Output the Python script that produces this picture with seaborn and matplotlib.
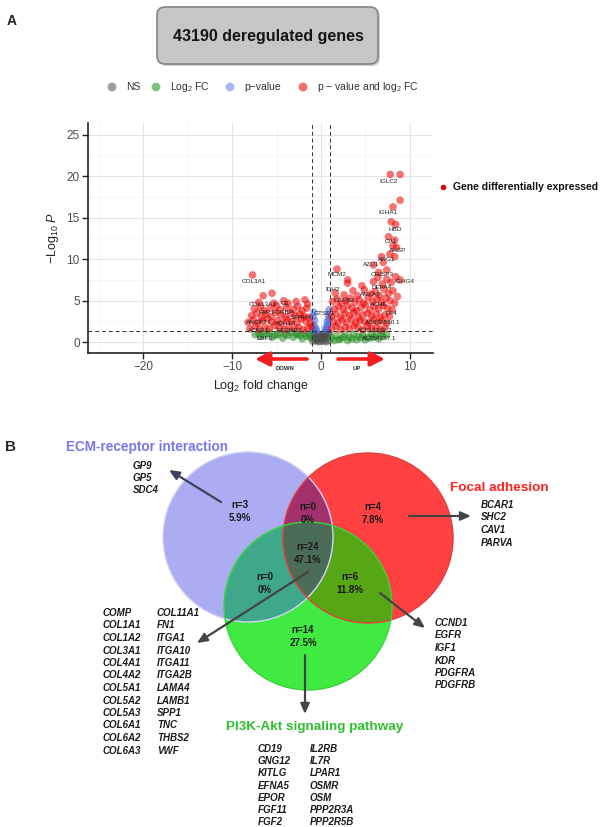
import numpy as np
import pandas as pd
import matplotlib
matplotlib.use("Agg")
import matplotlib.pyplot as plt
from matplotlib.patches import FancyBboxPatch, Circle
import seaborn as sns

sns.set_theme(style="white")
plt.rcParams["font.family"] = ["Liberation Sans", "DejaVu Sans"]
plt.rcParams["mathtext.fontset"] = "custom"
plt.rcParams["mathtext.rm"] = "Liberation Sans"
plt.rcParams["mathtext.it"] = "Liberation Sans:italic"
plt.rcParams["mathtext.bf"] = "Liberation Sans:bold"

# ---------------------------------------------------------------- data (A)
n_deregulated = 43190

# not significant
ns_fc = [-0.9, -0.6, -0.3, 0.0, 0.3, 0.6, 0.9, -0.8, -0.5, -0.2, 0.1, 0.4, 0.7,
         -0.7, -0.4, -0.1, 0.2, 0.5, 0.8, -0.9, 0.9, -0.5, 0.0, 0.5]
ns_p = [0.1, 0.2, 0.05, 0.1, 0.15, 0.05, 0.2, 0.5, 0.6, 0.4, 0.55, 0.45, 0.6,
        0.9, 1.0, 0.8, 0.95, 0.85, 1.1, 1.2, 1.0, 0.3, 0.7, 1.15]

# fold change only
fc_fc = [-7.4, -6.8, -6.1, -5.5, -4.9, -4.3, -3.7, -3.1, -2.6, -2.1, -1.6, -1.2,
         -7.0, -6.4, -5.8, -5.2, -4.6, -4.0, -3.4, -2.8, -2.3, -1.8, -1.3,
         1.2, 1.7, 2.2, 2.7, 3.2, 3.7, 4.2, 4.7, 5.2, 5.7, 6.2, 6.8, 7.4,
         1.5, 2.0, 2.5, 3.0, 3.5, 4.0, 4.5, 5.0, 5.5, 6.0, 6.5, 7.0]
fc_p = [0.9, 0.7, 1.0, 0.6, 0.9, 0.5, 0.8, 0.6, 0.9, 0.4, 0.7, 0.5,
        1.1, 0.9, 1.2, 0.8, 1.1, 0.9, 1.2, 1.0, 0.8, 1.1, 0.9,
        0.5, 0.8, 0.4, 0.9, 0.6, 1.0, 0.7, 0.9, 0.6, 1.0, 0.8, 1.1, 0.9,
        0.2, 0.3, 0.6, 0.2, 0.4, 0.3, 0.5, 0.3, 0.5, 0.6, 0.4, 0.7]

# p-value only
pv_fc = [-0.9, -0.8, -0.7, -0.9, -0.6, -0.8, -0.5, 0.7, 0.8, 0.9, 0.6, 0.8, 0.9, 0.7, 0.5]
pv_p = [1.5, 2.0, 2.6, 3.1, 1.7, 3.6, 1.4, 1.6, 2.2, 2.8, 1.9, 3.3, 3.9, 2.5, 1.5]

# significant, down-regulated
down_fc = [-8.0, -7.4, -6.9, -6.3, -5.8, -5.2, -4.7, -4.1, -3.6, -3.0, -2.5, -2.0, -1.5, -1.1,
           -8.2, -7.6, -7.1, -6.6, -6.0, -5.5, -4.9, -4.4, -3.8, -3.3, -2.7, -2.2, -1.7, -1.2,
           -7.8, -7.2, -6.7, -6.2, -5.6, -5.1, -4.5, -4.0, -3.4, -2.9, -2.4, -1.9, -1.4,
           -7.5, -6.8, -6.4, -5.7, -5.0, -4.6, -3.9, -3.1, -2.6, -2.1, -1.6,
           -7.0, -6.5, -5.5, -5.3, -4.2, -3.7, -2.8, -1.8, -1.5, -7.7]
down_p = [1.6, 1.9, 1.5, 1.8, 1.6, 2.0, 1.7, 1.5, 1.9, 1.6, 1.8, 1.5, 1.7, 1.9,
          2.4, 2.7, 2.3, 2.6, 2.8, 2.4, 2.6, 2.3, 2.7, 2.5, 2.4, 2.8, 2.5, 2.3,
          3.2, 3.5, 3.0, 3.4, 3.1, 3.6, 3.3, 3.0, 3.5, 3.2, 3.4, 3.1, 3.0,
          4.0, 4.3, 3.8, 4.1, 4.4, 3.9, 4.2, 4.0, 4.3, 3.8, 4.1,
          4.8, 5.6, 5.9, 4.7, 5.0, 4.7, 4.9, 5.1, 4.6, 8.1]

# significant, up-regulated
up_fc = [1.2, 1.7, 2.2, 2.7, 3.2, 3.7, 4.2, 4.7, 5.2, 5.7, 6.2, 6.7, 7.2,
         1.4, 1.9, 2.4, 2.9, 3.4, 3.9, 4.4, 4.9, 5.4, 5.9, 6.4, 6.9, 7.4,
         1.2, 1.7, 2.2, 2.7, 3.2, 3.7, 4.2, 4.7, 5.2, 5.7, 6.2, 6.7, 7.2, 7.7,
         1.5, 2.0, 2.5, 3.0, 3.5, 4.0, 4.5, 5.0, 5.5, 6.0, 6.5, 7.0, 7.5, 8.0,
         1.3, 1.8, 2.3, 2.8, 3.3, 3.8, 4.3, 4.8, 5.3, 5.8, 6.3, 6.8, 7.3, 7.8, 8.3,
         1.6, 2.6, 3.6, 4.1, 4.9, 5.6, 6.1, 6.6, 7.1, 7.6, 8.1, 8.6,
         3.0, 4.6, 5.9, 6.4, 6.9, 7.4, 7.9, 8.4,
         1.8, 3.0, 5.9, 6.5, 7.4, 7.0, 6.8, 7.75, 8.3, 8.1, 8.5, 7.6, 8.3,
         7.9, 8.4, 8.9, 8.1, 7.8, 8.9, 8.9]
up_p = [1.6, 1.9, 1.5, 1.8, 1.6, 2.0, 1.7, 1.5, 1.9, 1.6, 1.8, 1.5, 1.7,
        2.5, 2.3, 2.7, 2.4, 2.8, 2.3, 2.6, 2.5, 2.3, 2.7, 2.4, 2.6, 2.3,
        3.1, 3.4, 3.0, 3.5, 3.2, 3.6, 3.0, 3.3, 3.5, 3.1, 3.4, 3.0, 3.3, 3.1,
        4.0, 4.3, 3.9, 4.4, 4.1, 3.8, 4.2, 4.5, 3.9, 4.3, 4.0, 4.4, 4.1, 3.9,
        4.9, 5.2, 4.7, 5.0, 5.3, 4.8, 5.1, 4.7, 5.4, 4.9, 5.2, 4.8, 5.3, 5.0, 4.7,
        5.9, 5.7, 6.2, 5.6, 6.3, 5.8, 6.1, 5.6, 6.4, 5.9, 6.2, 5.5,
        7.1, 6.8, 7.3, 7.8, 7.0, 7.6, 7.2, 7.9,
        8.8, 7.5, 9.3, 8.4, 8.7, 9.6, 10.3, 10.6, 10.3, 11.6, 11.4, 12.7, 12.3,
        14.5, 14.2, 17.1, 16.3, 20.2, 20.2, 7.5]

# labelled genes
lab_genes = ["IGLC2", "IGHA1", "HBD", "CA1", "AHSP", "ARG1", "AZU1", "CRISP3", "IGHG4",
             "DEFA4", "ANXA3", "ACHE", "PF4", "MCM2", "IDH2", "GTSE1", "CCNB2",
             "AC092580.1", "AC012317.2", "AL354257.1",
             "COL3A1", "COL13A1", "C3", "FAP", "FCGBP", "SFRP4", "ANGPT1", "ADH1B",
             "ACKR1", "EFEMP1", "EBF3"]
lab_fc = [7.6, 7.5, 8.4, 7.9, 8.6, 7.4, 5.7, 6.9, 9.4,
          6.8, 5.6, 6.5, 7.9, 1.8, 1.3, 0.4, 2.6,
          7.0, 6.0, 6.5,
          -7.6, -6.6, -4.1, -6.4, -4.3, -2.2, -7.0, -4.0,
          -7.0, -3.6, -6.4]
lab_p = [19.3, 15.6, 13.6, 12.1, 11.0, 10.0, 9.3, 8.2, 7.3,
         6.6, 5.8, 4.6, 3.4, 8.2, 6.4, 3.4, 5.0,
         2.4, 1.4, 0.4,
         7.3, 4.6, 4.7, 3.6, 3.6, 3.0, 2.4, 2.2,
         1.4, 1.4, 0.4]

# ---------------------------------------------------------------- data (B)
ecm_only = ["GP9", "GP5", "SDC4"]
focal_only = ["BCAR1", "SHC2", "CAV1", "PARVA"]
pi3k_only = ["CD19", "GNG12", "KITLG", "EFNA5", "EPOR", "FGF11", "FGF2",
             "IL2RB", "IL7R", "LPAR1", "OSMR", "OSM", "PPP2R3A", "PPP2R5B"]
ecm_focal = []
ecm_pi3k = []
focal_pi3k = ["CCND1", "EGFR", "IGF1", "KDR", "PDGFRA", "PDGFRB"]
all_three = ["COMP", "COL1A1", "COL1A2", "COL3A1", "COL4A1", "COL4A2", "COL5A1",
             "COL5A2", "COL5A3", "COL6A1", "COL6A2", "COL6A3",
             "COL11A1", "FN1", "ITGA1", "ITGA10", "ITGA11", "ITGA2B", "LAMA4",
             "LAMB1", "SPP1", "TNC", "THBS2", "VWF"]

# ---------------------------------------------------------------- figure
W, H = 605, 827
fig = plt.figure(figsize=(W / 100, H / 100), dpi=100)

groups = ["NS", "Log2 FC", "p-value", "p-value and log2 FC"]
palette = {"NS": "#4D4D4D", "Log2 FC": "#228B22", "p-value": "#4169E1",
           "p-value and log2 FC": "#EE0000"}
df = pd.concat([
    pd.DataFrame({"log2fc": ns_fc, "nlogp": ns_p, "group": "NS"}),
    pd.DataFrame({"log2fc": fc_fc, "nlogp": fc_p, "group": "Log2 FC"}),
    pd.DataFrame({"log2fc": pv_fc, "nlogp": pv_p, "group": "p-value"}),
    pd.DataFrame({"log2fc": down_fc + up_fc, "nlogp": down_p + up_p,
                  "group": "p-value and log2 FC"}),
], ignore_index=True)

ax = fig.add_axes([88 / W, 1 - 353 / H, (433 - 88) / W, (353 - 123) / H])
sns.scatterplot(data=df, x="log2fc", y="nlogp", hue="group", hue_order=groups,
                palette=palette, s=30, alpha=0.55, linewidth=0, legend=False,
                ax=ax, zorder=3)

ax.set_xlim(-26.2, 12.6)
ax.set_ylim(-1.3, 26.4)
ax.set_xticks([-20, -10, 0, 10])
ax.set_yticks([0, 5, 10, 15, 20, 25])
ax.set_xticks([-25, -15, -5, 5], minor=True)
ax.set_yticks([2.5, 7.5, 12.5, 17.5, 22.5], minor=True)
ax.grid(which="major", color="#E4E4E4", lw=0.8)
ax.grid(which="minor", color="#F1F1F1", lw=0.5)
ax.set_axisbelow(True)
for side in ("top", "right"):
    ax.spines[side].set_visible(False)
for side in ("left", "bottom"):
    ax.spines[side].set_color("#222222")
    ax.spines[side].set_linewidth(1.2)
ax.tick_params(which="major", length=4, width=1, color="#222222",
               labelcolor="#4D4D4D", labelsize=8.5, pad=2, left=True, bottom=True)
ax.tick_params(which="minor", length=0)

dash = (0, (4, 3))
for v in (-1, 1):
    ax.axvline(v, color="#333333", lw=0.7, ls=dash, zorder=4)
ax.axhline(-np.log10(0.05), color="#333333", lw=0.7, ls=dash, zorder=4)

for g, x, y in zip(lab_genes, lab_fc, lab_p):
    ax.text(x, y, g, fontsize=4.6, color="#222222", ha="center", va="center", zorder=5)

ax.set_xlabel(r"Log$_2$ fold change", fontsize=9, color="#222222", labelpad=3)
ax.set_ylabel(r"$-$Log$_{10}$ $\mathit{P}$", fontsize=9, color="#222222", labelpad=4)

# ---------------------------------------------------------------- overlay
ov = fig.add_axes([0, 0, 1, 1], zorder=5)
ov.axis("off")

ov.text(12, 21, "A", fontsize=10, fontweight="bold", ha="center", va="center")
ov.text(11, 447, "B", fontsize=11, fontweight="bold", ha="center", va="center")

# title box
ov.add_patch(FancyBboxPatch((159, 9), 221, 57, boxstyle="round,pad=0,rounding_size=8",
                            fc="#9A9A9A", ec="none", alpha=0.5, zorder=1))
ov.add_patch(FancyBboxPatch((157, 7), 221, 57, boxstyle="round,pad=0,rounding_size=8",
                            fc="#C6C6C6", ec="#858585", lw=1.2, zorder=2))
ov.text(268, 37, f"{n_deregulated} deregulated genes", fontsize=11.5,
        fontweight="bold", ha="center", va="center", color="#151515", zorder=3)

# top legend
leg_x = [112, 156, 230, 303]
leg_cols = ["#9C9C9C", "#7CC47C", "#A8B8F0", "#F06C6C"]
leg_txt = ["NS", r"Log$_2$ FC", "p\u2212value", r"p $-$ value and log$_2$ FC"]
ov.scatter(leg_x, [87] * 4, s=40, c=leg_cols, linewidths=0, zorder=3)
for x, t in zip(leg_x, leg_txt):
    ov.text(x + 14, 87, t, fontsize=7.5, color="#333333", ha="left", va="center")

# right legend
ov.scatter([443], [187], s=16, c="#E00000", linewidths=0)
ov.text(453, 187, "Gene differentially expressed", fontsize=7.5,
        fontweight="bold", ha="left", va="center", color="#111111")


def arrow(x0, y0, x1, y1, color="#444444", lw=1.6, hl=0.5, hw=0.22):
    ov.annotate("", xy=(x1, y1), xytext=(x0, y0),
                arrowprops=dict(arrowstyle=f"-|>,head_length={hl},head_width={hw}",
                                color=color, lw=lw, shrinkA=0, shrinkB=0), zorder=6)


# direction arrows
arrow(307, 359, 255, 359, color="#F01E1E", lw=2.6, hl=0.7, hw=0.35)
arrow(338, 359, 385, 359, color="#F01E1E", lw=2.6, hl=0.7, hw=0.35)
ov.text(285, 369, "DOWN", fontsize=4.3, fontweight="bold", ha="center", va="center")
ov.text(357, 369, "UP", fontsize=4.3, fontweight="bold", ha="center", va="center")

# ---------------------------------------------------------------- Venn
circles = {"E": (248, 537, 85), "F": (368, 538, 85), "P": (308, 606, 84)}
region_cols = {
    (1, 0, 0): "#ACACF2", (0, 1, 0): "#FF4242", (0, 0, 1): "#42EB42",
    (1, 1, 0): "#A2306E", (1, 0, 1): "#3FA88A", (0, 1, 1): "#58A616",
    (1, 1, 1): "#4C6C58",
}
gx = np.linspace(140, 470, 1320)
gy = np.linspace(440, 700, 1040)
X, Y = np.meshgrid(gx, gy)
masks = [((X - cx) ** 2 + (Y - cy) ** 2 <= r ** 2).astype(int)
         for cx, cy, r in circles.values()]
img = np.zeros(X.shape + (4,))
for key, col in region_cols.items():
    sel = (masks[0] == key[0]) & (masks[1] == key[1]) & (masks[2] == key[2])
    img[sel] = matplotlib.colors.to_rgba(col)
ov.imshow(img, extent=(gx[0], gx[-1], gy[-1], gy[0]), origin="upper",
          interpolation="antialiased", aspect="auto", zorder=1)
for (cx, cy, r), ec in zip(circles.values(), ["#D4D4FA", "#E83A3A", "#3AD63A"]):
    ov.add_patch(Circle((cx, cy), r, fill=False, ec=ec, lw=1.0, zorder=2))

sets = {"E": ecm_only, "F": focal_only, "P": pi3k_only, "EF": ecm_focal,
        "EP": ecm_pi3k, "FP": focal_pi3k, "EFP": all_three}
total = sum(len(v) for v in sets.values())
count_pos = {"E": (240, 505), "EF": (308, 507), "F": (373, 507), "EFP": (308, 547),
             "EP": (265, 577), "FP": (350, 577), "P": (303, 630)}
for k, (x, y) in count_pos.items():
    n = len(sets[k])
    pct = f"{100 * n / total:.1f}%" if n else "0%"
    ov.text(x, y, f"n={n}", fontsize=7, fontweight="bold", color="#1A1A1A",
            ha="center", va="center", zorder=4)
    ov.text(x, y + 13, pct, fontsize=7, fontweight="bold", color="#1A1A1A",
            ha="center", va="center", zorder=4)

ov.text(147, 447, "ECM-receptor interaction", fontsize=9.8, fontweight="bold",
        color="#7878EC", ha="center", va="center")
ov.text(499, 488, "Focal adhesion", fontsize=9.7, fontweight="bold",
        color="#FF2222", ha="center", va="center")
ov.text(315, 727, "PI3K-Akt signaling pathway", fontsize=9.7, fontweight="bold",
        color="#2DBE2D", ha="center", va="center")


def gene_column(genes, x, y0, dy):
    for i, g in enumerate(genes):
        ov.text(x, y0 + i * dy, g, fontsize=7, fontweight="bold", fontstyle="italic",
                color="#1A1A1A", ha="left", va="center")


gene_column(ecm_only, 133, 466, 12)
gene_column(focal_only, 481, 505, 12.5)
gene_column(focal_pi3k, 435, 623, 12.5)
gene_column(all_three[:12], 103, 613, 12.5)
gene_column(all_three[12:], 157, 613, 12.5)
gene_column(pi3k_only[:7], 258, 749, 12.2)
gene_column(pi3k_only[7:], 310, 749, 12.2)

arrow(221, 502, 169, 470, color="#39425E")
arrow(409, 516, 471, 516)
arrow(308, 572, 197, 643)
arrow(380, 593, 425, 628)
arrow(305, 655, 305, 714)

ov.set_xlim(0, W)
ov.set_ylim(H, 0)

fig.savefig("out.png", dpi=100)
